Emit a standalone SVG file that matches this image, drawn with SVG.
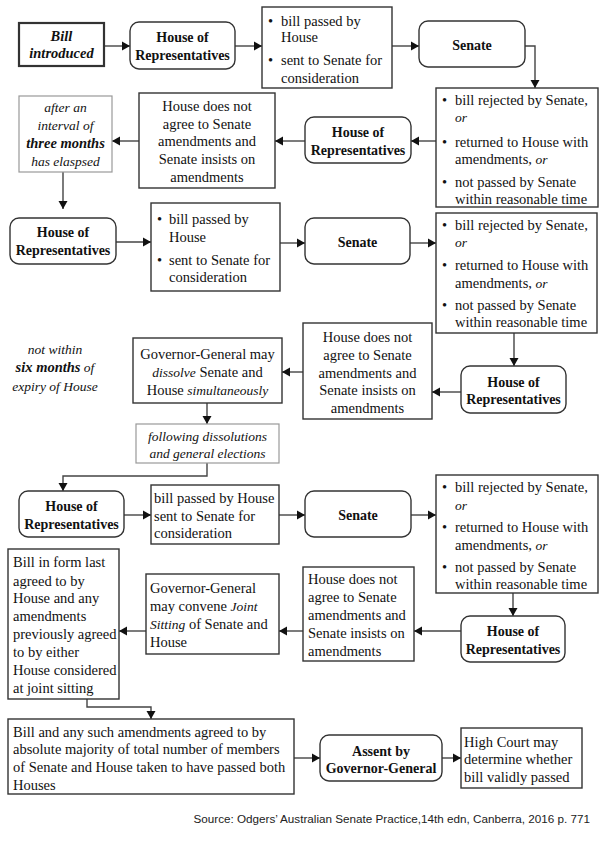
<svg xmlns="http://www.w3.org/2000/svg" width="605" height="842" viewBox="0 0 605 842">
<style>
.b{fill:#fff;stroke:#333;stroke-width:1.4}
.g{fill:#fff;stroke:#999;stroke-width:1.2}
.t{font-family:"Liberation Serif","Times New Roman",serif;font-size:14.5px;fill:#111}
.c{text-anchor:middle}
.bd{font-weight:bold;font-size:14px}
.it{font-style:italic;font-size:13.5px}
.bi{font-style:italic;font-weight:bold;font-size:14.5px}
.ln{fill:none;stroke:#444;stroke-width:1.4}
.src{font-family:"Liberation Sans",Arial,sans-serif;font-size:11.7px;fill:#222;text-anchor:end}
</style>
<defs>
<marker id="ah" markerUnits="userSpaceOnUse" markerWidth="9" markerHeight="10" refX="8" refY="5" orient="auto">
<path d="M0,0.5 L8,5 L0,9.5 z" fill="#111"/>
</marker>
</defs>
<rect width="605" height="842" fill="#fff"/>

<g id="connectors">
<path class="ln" d="M104,46 H130" marker-end="url(#ah)"/>
<path class="ln" d="M235,46 H262" marker-end="url(#ah)"/>
<path class="ln" d="M392,46 H419" marker-end="url(#ah)"/>
<path class="ln" d="M525,46 H535 V88" marker-end="url(#ah)"/>
<path class="ln" d="M436,141 H411" marker-end="url(#ah)"/>
<path class="ln" d="M305,141 H275" marker-end="url(#ah)"/>
<path class="ln" d="M139,141 H112" marker-end="url(#ah)"/>
<path class="ln" d="M63,172 V209" marker-end="url(#ah)"/>
<path class="ln" d="M116,242 H151" marker-end="url(#ah)"/>
<path class="ln" d="M280,243 H305" marker-end="url(#ah)"/>
<path class="ln" d="M410,243 H436" marker-end="url(#ah)"/>
<path class="ln" d="M514,333 V366" marker-end="url(#ah)"/>
<path class="ln" d="M461,392 H432" marker-end="url(#ah)"/>
<path class="ln" d="M303,372 H282" marker-end="url(#ah)"/>
<path class="ln" d="M207,403 V424" marker-end="url(#ah)"/>
<path class="ln" d="M207,463 V476 H63 V491" marker-end="url(#ah)"/>
<path class="ln" d="M124,515 H151" marker-end="url(#ah)"/>
<path class="ln" d="M279,515 H305" marker-end="url(#ah)"/>
<path class="ln" d="M411,515 H436" marker-end="url(#ah)"/>
<path class="ln" d="M513,593 V616" marker-end="url(#ah)"/>
<path class="ln" d="M461,631 H414" marker-end="url(#ah)"/>
<path class="ln" d="M303,631 H279" marker-end="url(#ah)"/>
<path class="ln" d="M146,631 H119" marker-end="url(#ah)"/>
<path class="ln" d="M87,699 V707 H151 V719" marker-end="url(#ah)"/>
<path class="ln" d="M294,758 H320" marker-end="url(#ah)"/>
<path class="ln" d="M442,758 H461" marker-end="url(#ah)"/>
</g>

<g id="n1">
<rect class="b" x="19" y="23" width="85" height="43" style="stroke-width:2.2"/>
<text class="t c bi" x="61.5" y="41">Bill</text>
<text class="t c bi" x="61.5" y="58">introduced</text>
</g>
<g id="n2">
<rect class="b" x="130" y="22" width="105" height="47" rx="9"/>
<text class="t c bd" x="182.5" y="42">House of</text>
<text class="t c bd" x="182.5" y="60">Representatives</text>
</g>
<g id="n3">
<rect class="b" x="262" y="7" width="130" height="81"/>
<text class="t" x="268" y="25.5">•</text>
<text class="t" x="281" y="25.5">bill passed by</text>
<text class="t" x="281" y="42">House</text>
<text class="t" x="268" y="64.5">•</text>
<text class="t" x="281" y="64.5">sent to Senate for</text>
<text class="t" x="281" y="82.5">consideration</text>
</g>
<g id="n4">
<rect class="b" x="419" y="21" width="106" height="46" rx="9"/>
<text class="t c bd" x="472" y="49.5">Senate</text>
</g>
<g id="n5">
<rect class="b" x="436" y="88" width="162" height="119"/>
<text class="t" x="442" y="104.5">•</text>
<text class="t" x="455" y="104.5">bill rejected by Senate,</text>
<text class="t it" x="455" y="122">or</text>
<text class="t" x="442" y="146.5">•</text>
<text class="t" x="455" y="146.5">returned to House with</text>
<text class="t" x="455" y="164">amendments, <tspan class="it">or</tspan></text>
<text class="t" x="442" y="186.5">•</text>
<text class="t" x="455" y="186.5">not passed by Senate</text>
<text class="t" x="455" y="203.5">within reasonable time</text>
</g>
<g id="n6">
<rect class="b" x="305" y="117" width="106" height="46" rx="9"/>
<text class="t c bd" x="358" y="136.5">House of</text>
<text class="t c bd" x="358" y="154.5">Representatives</text>
</g>
<g id="n7">
<rect class="b" x="139" y="93" width="136" height="95"/>
<text class="t c" x="207" y="110.5">House does not</text>
<text class="t c" x="207" y="128.5">agree to Senate</text>
<text class="t c" x="207" y="146">amendments and</text>
<text class="t c" x="207" y="164">Senate insists on</text>
<text class="t c" x="207" y="182">amendments</text>
</g>
<g id="n8">
<rect class="g" x="19" y="96" width="93" height="76"/>
<text class="t c it" x="65.5" y="112">after an</text>
<text class="t c it" x="65.5" y="130">interval of</text>
<text class="t c bi" x="65.5" y="148">three months</text>
<text class="t c it" x="65.5" y="166">has elaspsed</text>
</g>

<g id="n9">
<rect class="b" x="10" y="218" width="106" height="46" rx="9"/>
<text class="t c bd" x="63" y="237">House of</text>
<text class="t c bd" x="63" y="255">Representatives</text>
</g>
<g id="n10">
<rect class="b" x="151" y="203" width="129" height="88"/>
<text class="t" x="157" y="223.5">•</text>
<text class="t" x="169" y="223.5">bill passed by</text>
<text class="t" x="169" y="241.5">House</text>
<text class="t" x="157" y="264.5">•</text>
<text class="t" x="169" y="264.5">sent to Senate for</text>
<text class="t" x="169" y="281.5">consideration</text>
</g>
<g id="n11">
<rect class="b" x="305" y="218" width="105" height="46" rx="9"/>
<text class="t c bd" x="357.5" y="246.5">Senate</text>
</g>
<g id="n12">
<rect class="b" x="436" y="213" width="161" height="120"/>
<text class="t" x="442" y="229.5">•</text>
<text class="t" x="455" y="229.5">bill rejected by Senate,</text>
<text class="t it" x="455" y="247">or</text>
<text class="t" x="442" y="269.5">•</text>
<text class="t" x="455" y="269.5">returned to House with</text>
<text class="t" x="455" y="287.5">amendments, <tspan class="it">or</tspan></text>
<text class="t" x="442" y="309.5">•</text>
<text class="t" x="455" y="309.5">not passed by Senate</text>
<text class="t" x="455" y="327">within reasonable time</text>
</g>
<g id="n13">
<rect class="b" x="461" y="366" width="105" height="47" rx="9"/>
<text class="t c bd" x="513.5" y="386.5">House of</text>
<text class="t c bd" x="513.5" y="404">Representatives</text>
</g>
<g id="n14">
<rect class="b" x="303" y="323" width="129" height="96"/>
<text class="t c" x="367.5" y="341.5">House does not</text>
<text class="t c" x="367.5" y="359.5">agree to Senate</text>
<text class="t c" x="367.5" y="377.5">amendments and</text>
<text class="t c" x="367.5" y="394.5">Senate insists on</text>
<text class="t c" x="367.5" y="412.5">amendments</text>
</g>
<g id="n15">
<rect class="b" x="133" y="338" width="149" height="65"/>
<text class="t c" x="207.5" y="358.5">Governor-General may</text>
<text class="t c" x="207.5" y="376.5"><tspan class="it">dissolve</tspan> Senate and</text>
<text class="t c" x="207.5" y="394.5">House <tspan class="it">simultaneously</tspan></text>
</g>
<g id="n16">
<text class="t c it" x="55" y="353.5">not within</text>
<text class="t c it" x="55" y="372"><tspan class="bi">six months</tspan> of</text>
<text class="t c it" x="55" y="390.5">expiry of House</text>
</g>
<g id="n17">
<rect class="g" x="136" y="424" width="143" height="39"/>
<text class="t c it" x="207.5" y="440.5">following dissolutions</text>
<text class="t c it" x="207.5" y="457.5">and general elections</text>
</g>

<g id="n18">
<rect class="b" x="19" y="491" width="105" height="46" rx="9"/>
<text class="t c bd" x="71.5" y="510.5">House of</text>
<text class="t c bd" x="71.5" y="528.5">Representatives</text>
</g>
<g id="n19">
<rect class="b" x="151" y="485" width="128" height="59"/>
<text class="t" x="154" y="502.5">bill passed by House</text>
<text class="t" x="154" y="520.5">sent to Senate for</text>
<text class="t" x="154" y="537.5">consideration</text>
</g>
<g id="n20">
<rect class="b" x="305" y="491" width="106" height="46" rx="9"/>
<text class="t c bd" x="358" y="519.5">Senate</text>
</g>
<g id="n21">
<rect class="b" x="436" y="475" width="162" height="118"/>
<text class="t" x="442" y="491.5">•</text>
<text class="t" x="455" y="491.5">bill rejected by Senate,</text>
<text class="t it" x="455" y="510">or</text>
<text class="t" x="442" y="531.5">•</text>
<text class="t" x="455" y="531.5">returned to House with</text>
<text class="t" x="455" y="550">amendments, <tspan class="it">or</tspan></text>
<text class="t" x="442" y="571.5">•</text>
<text class="t" x="455" y="571.5">not passed by Senate</text>
<text class="t" x="455" y="588.5">within reasonable time</text>
</g>
<g id="n22">
<rect class="b" x="461" y="616" width="104" height="46" rx="9"/>
<text class="t c bd" x="513" y="635.5">House of</text>
<text class="t c bd" x="513" y="653.5">Representatives</text>
</g>
<g id="n23">
<rect class="b" x="303" y="567" width="111" height="94"/>
<text class="t" x="308" y="583.5">House does not</text>
<text class="t" x="308" y="601.5">agree to Senate</text>
<text class="t" x="308" y="619.5">amendments and</text>
<text class="t" x="308" y="637.5">Senate insists on</text>
<text class="t" x="308" y="655.5">amendments</text>
</g>
<g id="n24">
<rect class="b" x="146" y="574" width="133" height="80"/>
<text class="t" x="150" y="592.5">Governor-General</text>
<text class="t" x="150" y="611">may convene <tspan class="it">Joint</tspan></text>
<text class="t" x="150" y="628.5"><tspan class="it">Sitting</tspan> of Senate and</text>
<text class="t" x="150" y="646.5">House</text>
</g>
<g id="n25">
<rect class="b" x="8" y="549" width="111" height="150"/>
<text class="t" x="13" y="566.5">Bill in form last</text>
<text class="t" x="13" y="585.5">agreed to by</text>
<text class="t" x="13" y="602.5">House and any</text>
<text class="t" x="13" y="620.5">amendments</text>
<text class="t" x="13" y="638.5">previously agreed</text>
<text class="t" x="13" y="656.5">to by either</text>
<text class="t" x="13" y="674.5">House considered</text>
<text class="t" x="13" y="692.5">at joint sitting</text>
</g>

<g id="n26">
<rect class="b" x="8" y="719" width="286" height="75"/>
<text class="t" x="13" y="736.5">Bill and any such amendments agreed to by</text>
<text class="t" x="13" y="753.5">absolute majority of total number of members</text>
<text class="t" x="13" y="771.5">of Senate and House taken to have passed both</text>
<text class="t" x="13" y="789.5">Houses</text>
</g>
<g id="n27">
<rect class="b" x="320" y="735" width="122" height="46" rx="9"/>
<text class="t c bd" x="381" y="755.5">Assent by</text>
<text class="t c bd" x="381" y="772.5">Governor-General</text>
</g>
<g id="n28">
<rect class="b" x="461" y="728" width="121" height="60"/>
<text class="t" x="464" y="746.5">High Court may</text>
<text class="t" x="464" y="763.5">determine whether</text>
<text class="t" x="464" y="781.5">bill validly passed</text>
</g>

<text id="source" class="src" x="590" y="823">Source: Odgers’ Australian Senate Practice,14th edn, Canberra, 2016 p. 771</text>
</svg>
